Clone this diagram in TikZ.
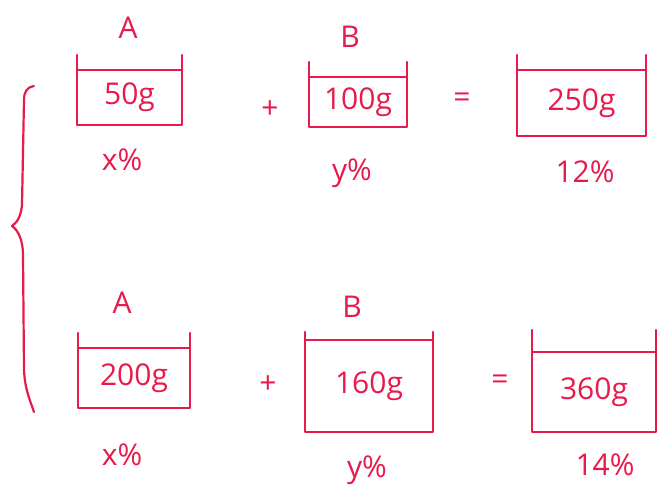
\documentclass[tikz,border=0pt]{standalone}
\usepackage{fontspec}
\setmainfont{Open Sans}
\usetikzlibrary{positioning}
\definecolor{ink}{HTML}{E8194B}
\tikzset{
  pen/.style={draw=ink,line width=1.1pt,line cap=round,line join=round},
  hand/.style={text=ink,font=\fontsize{15}{17}\selectfont,inner sep=1pt}
}

\begin{document}
\begin{tikzpicture}[x=0.5pt,y=-0.5pt]
\useasboundingbox (0,0) rectangle (659,502);
% beakers: name/left/top/right/bottom/level/mass
\foreach \nm/\xl/\yt/\xr/\yb/\lv/\txt in {
    a1/77/55/182/125/70/50g, b1/309/62/407/127/77/100g, c1/517/55/646/136/70/250g,
    a2/78/333/190/408/348/200g, b2/305/332/433/432/340/160g, c2/532/330/656/432/352/360g}{
  \coordinate (\nm-tl) at (\xl,\yt);
  \coordinate (\nm-bl) at (\xl,\yb);
  \coordinate (\nm-br) at (\xr,\yb);
  \coordinate (\nm-tr) at (\xr,\yt);
  \draw[pen] (\nm-tl) -- (\nm-bl) -- (\nm-br) -- (\nm-tr);
  \draw[pen] (\xl,\lv) -- (\xr,\lv);
  \node[hand] (\nm) at ({(\xl+\xr)/2},{(\lv+\yb)/2}) {\txt};
}
% labels above and below
\node[hand] (la1) at (128,28) {A};
\node[hand] (lb1) at (350,37) {B};
\node[hand] (pa1) at (122,160) {x\%};
\node[hand] (pb1) at (352,173) {y\%};
\node[hand] (pc1) at (585,172) {12\%};
\node[hand] (la2) at (122,303) {A};
\node[hand] (lb2) at (352,307) {B};
\node[hand] (pa2) at (122,455) {x\%};
\node[hand] (pb2) at (367,470) {y\%};
\node[hand] (pc2) at (605,465) {14\%};
% operators
\node[hand] (plus1) at (270,110) {+};
\node[hand] (eq1) at (462,100) {=};
\node[hand] (plus2) at (268,385) {+};
\node[hand] (eq2) at (500,382) {=};
% brace
\draw[pen] (34,86) .. controls (27,87) and (24,92) .. (24,100)
  -- (22,205) .. controls (21,215) and (18,222) .. (12,226)
  .. controls (18,230) and (23,240) .. (23,255)
  -- (24,370) .. controls (25,390) and (30,400) .. (34,412);
\end{tikzpicture}
\end{document}
